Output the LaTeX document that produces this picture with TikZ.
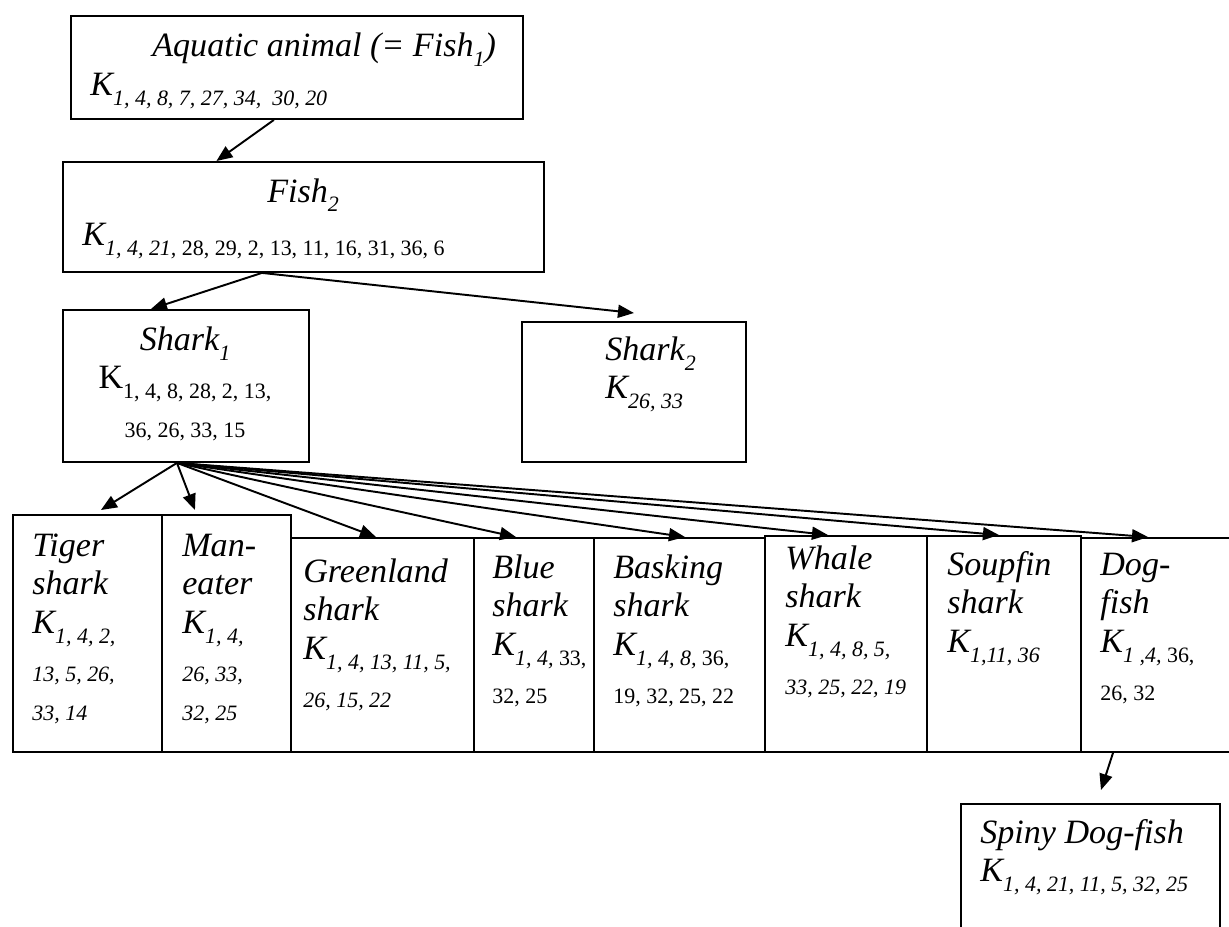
\documentclass[tikz,border=0pt]{standalone}
\usepackage{fontspec}
\setmainfont{Liberation Serif}
\usepackage{tikz}
\usetikzlibrary{arrows.meta}

\newcommand{\ksub}[1]{\raisebox{-0.2cm}[0pt][0pt]{\fontsize{12.5}{14}\selectfont #1}}
\newcommand{\lftlines}[1]{\begin{tabular}[t]{@{}l@{}}#1\end{tabular}}
\newcommand{\midlines}[1]{\begin{tabular}[t]{@{}c@{}}#1\end{tabular}}

\begin{document}
\begin{tikzpicture}[x=0.02cm, y=-0.02cm]
        \tikzset{box style/.style={draw, line width=1.1pt, rectangle, inner sep=0pt, anchor=north west}}
        \tikzset{text style/.style={inner sep=0pt, anchor=base west, font=\fontsize{19.4}{22}\selectfont\itshape}}
        \tikzset{line style/.style={line width=1.1pt, -{Triangle[length=0.32cm, width=0.26cm]}}}

        \useasboundingbox (0,0) rectangle (1229,926);

        % boxes
        \node[box style, minimum width=9.04cm, minimum height=2.06cm] (aqua) at (70,15) {};
        \node[box style, minimum width=9.62cm, minimum height=2.20cm] (fish) at (62,161) {};
        \node[box style, minimum width=4.92cm, minimum height=3.04cm] (sharkA) at (62,309) {};
        \node[box style, minimum width=4.48cm, minimum height=2.80cm] (sharkB) at (521,321) {};
        \node[box style, minimum width=2.98cm, minimum height=4.74cm] (tiger) at (12,514) {};
        \node[box style, minimum width=2.58cm, minimum height=4.74cm] (maneater) at (161,514) {};
        \node[box style, minimum width=3.66cm, minimum height=4.28cm] (greenland) at (290,537) {};
        \node[box style, minimum width=2.40cm, minimum height=4.28cm] (blue) at (473,537) {};
        \node[box style, minimum width=3.42cm, minimum height=4.28cm] (basking) at (593,537) {};
        \node[box style, minimum width=3.24cm, minimum height=4.32cm] (whale) at (764,535) {};
        \node[box style, minimum width=3.08cm, minimum height=4.32cm] (soupfin) at (926,535) {};
        \node[box style, minimum width=3.40cm, minimum height=4.28cm] (dogfish) at (1080,537) {};
        \node[box style, minimum width=5.18cm, minimum height=3.00cm] (spiny) at (960,803) {};

        % texts
        \node[text style] (aquatxt) at (90,57) {\lftlines{\hspace*{1.24cm}Aquatic animal (= Fish\ksub{1})\\K\ksub{1, 4, 8, 7, 27, 34,\ \ 30, 20}}};
        \node[text style] (fishtxt) at (82,202) {\lftlines{\hspace*{3.7cm}Fish\ksub{2}\\[0.1cm]K\ksub{1, 4, 21, \textup{28, 29, 2, 13, 11, 16, 31, 36, 6}}}};
        \node[text style, anchor=base] (sharkAtxt) at (185,350) {\midlines{Shark\ksub{1}\\\textup{K}\ksub{\textup{1, 4, 8, 28, 2, 13,}}\\\ksub{\textup{36, 26, 33, 15}}}};
        \node[text style] (sharkBtxt) at (605,360) {\lftlines{Shark\ksub{2}\\K\ksub{26, 33}}};
        \node[text style] (tigertxt) at (32,556) {\lftlines{Tiger\\shark\\K\ksub{1, 4, 2,}\\\ksub{13, 5, 26,}\\\ksub{33, 14}}};
        \node[text style] (maneatertxt) at (182,556) {\lftlines{Man-\\eater\\K\ksub{1, 4,}\\\ksub{26, 33,}\\\ksub{32, 25}}};
        \node[text style] (greenlandtxt) at (303,582) {\lftlines{Greenland\\shark\\K\ksub{1, 4, 13, 11, 5,}\\\ksub{26, 15, 22}}};
        \node[text style] (bluetxt) at (492,578) {\lftlines{Blue\\shark\\K\ksub{1, 4, \textup{33,}}\\\ksub{\textup{32, 25}}}};
        \node[text style] (baskingtxt) at (613,578) {\lftlines{Basking\\shark\\K\ksub{1, 4, 8, \textup{36,}}\\\ksub{\textup{19, 32, 25, 22}}}};
        \node[text style] (whaletxt) at (785,569) {\lftlines{Whale\\shark\\K\ksub{1, 4, 8, 5,}\\\ksub{33, 25, 22, 19}}};
        \node[text style] (soupfintxt) at (947,575) {\lftlines{Soupfin\\shark\\K\ksub{1,11, 36}}};
        \node[text style] (dogfishtxt) at (1100,575) {\lftlines{Dog-\\fish\\K\ksub{1 ,4, \textup{36,}}\\\ksub{\textup{26, 32}}}};
        \node[text style] (spinytxt) at (980,843) {\lftlines{Spiny Dog-fish\\K\ksub{1, 4, 21, 11, 5, 32, 25}}};

        % arrows
        \draw[line style] ([xshift=-0.46cm]aqua.south) -- ([xshift=-1.74cm]fish.north);
        \draw[line style] ([xshift=-0.83cm]fish.south) -- ([xshift=-0.70cm]sharkA.north);
        \draw[line style] ([xshift=-0.83cm]fish.south) -- ([yshift=0.16cm]sharkB.north);
        \draw[line style] ([xshift=-0.18cm]sharkA.south) -- ([xshift=0.27cm, yshift=0.08cm]tiger.north);
        \draw[line style] ([xshift=-0.18cm]sharkA.south) -- ([xshift=-0.63cm, yshift=0.08cm]maneater.north);
        \draw[line style] ([xshift=-0.18cm]sharkA.south) -- ([xshift=-0.13cm]greenland.north);
        \draw[line style] ([xshift=-0.18cm]sharkA.south) -- ([xshift=-0.36cm]blue.north);
        \draw[line style] ([xshift=-0.18cm]sharkA.south) -- ([xshift=0.11cm]basking.north);
        \draw[line style] ([xshift=-0.18cm]sharkA.south) -- ([xshift=-0.36cm]whale.north);
        \draw[line style] ([xshift=-0.18cm]sharkA.south) -- ([xshift=-0.10cm]soupfin.north);
        \draw[line style] ([xshift=-0.18cm]sharkA.south) -- ([xshift=1.36cm]dogfish.north west);
        \draw[line style] ([xshift=0.66cm]dogfish.south west) -- ([xshift=2.82cm, yshift=0.26cm]spiny.north west);
\end{tikzpicture}
\end{document}
